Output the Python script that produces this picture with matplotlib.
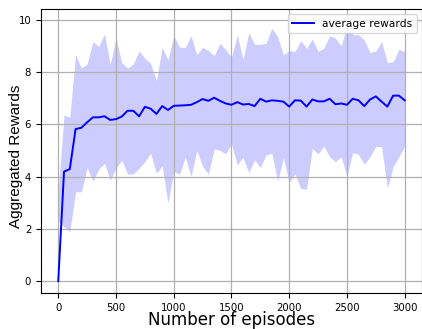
import matplotlib
matplotlib.use("Agg")
import matplotlib.pyplot as plt

# episodes are logged every 50 steps
episodes = list(range(0, 3001, 50))

avg_reward = [
    0.0, 4.19, 4.29, 5.82, 5.87, 6.08, 6.27, 6.27, 6.31, 6.17,
    6.20, 6.30, 6.52, 6.52, 6.31, 6.67, 6.60, 6.40, 6.70, 6.55,
    6.71, 6.72, 6.73, 6.75, 6.85, 6.97, 6.90, 7.02, 6.90, 6.80,
    6.75, 6.85, 6.76, 6.78, 6.70, 6.98, 6.87, 6.92, 6.90, 6.87,
    6.68, 6.92, 6.91, 6.68, 6.95, 6.88, 6.88, 6.98, 6.77, 6.80,
    6.75, 6.98, 6.92, 6.70, 6.95, 7.07, 6.87, 6.68, 7.10, 7.10,
    6.92,
]

reward_hi = [
    3.50, 6.36, 6.27, 8.67, 8.15, 8.31, 9.17, 8.98, 9.46, 8.31,
    9.30, 8.36, 8.15, 8.31, 8.81, 8.53, 8.34, 7.67, 8.94, 8.47,
    9.39, 8.96, 8.94, 9.39, 8.66, 8.95, 8.83, 8.63, 9.10, 8.86,
    8.57, 9.43, 8.49, 9.51, 9.06, 9.06, 9.10, 9.68, 9.36, 8.66,
    8.83, 8.79, 9.20, 8.91, 9.27, 8.80, 8.91, 9.39, 9.30, 9.00,
    9.75, 9.43, 9.43, 9.23, 8.75, 8.81, 9.17, 8.36, 8.40, 8.87,
    8.79,
]

reward_lo = [
    2.30, 2.08, 1.89, 3.42, 3.42, 4.34, 3.83, 4.28, 4.51, 3.87,
    4.32, 4.63, 4.10, 4.10, 4.32, 4.57, 4.89, 4.13, 4.41, 3.00,
    4.20, 4.09, 4.74, 4.01, 5.00, 4.40, 4.09, 5.06, 5.00, 4.88,
    5.24, 4.46, 4.74, 4.15, 4.64, 4.35, 4.83, 4.89, 3.83, 4.72,
    3.77, 4.10, 3.55, 3.51, 5.08, 4.87, 5.17, 4.76, 4.57, 4.76,
    4.02, 4.92, 4.85, 4.47, 4.76, 5.15, 5.15, 3.57, 4.38, 4.76,
    5.17,
]

fig = plt.figure(figsize=(4.22, 3.29), dpi=100)
ax = fig.add_axes([0.097, 0.109, 0.903, 0.864])

ax.fill_between(episodes, reward_lo, reward_hi, color="blue", alpha=0.2, linewidth=0)
ax.plot(episodes, avg_reward, color="blue", linewidth=1.4, label="average rewards")

ax.set_xlim(-150, 3150)
ax.set_ylim(-0.46, 10.42)
ax.set_xticks(range(0, 3001, 500))
ax.set_yticks(range(0, 11, 2))
ax.tick_params(labelsize=7.3, length=3.5)
ax.grid(True, color="#b0b0b0", linewidth=0.9)

ax.set_xlabel("Number of episodes", fontsize=12, labelpad=-1)
ax.set_ylabel("Aggregated Rewards", fontsize=11, family="Liberation Sans")
ax.yaxis.set_label_coords(-0.048, 0.48)

ax.legend(loc="upper right", fontsize=7.7)

fig.savefig("out.png", dpi=100)
plt.close(fig)
